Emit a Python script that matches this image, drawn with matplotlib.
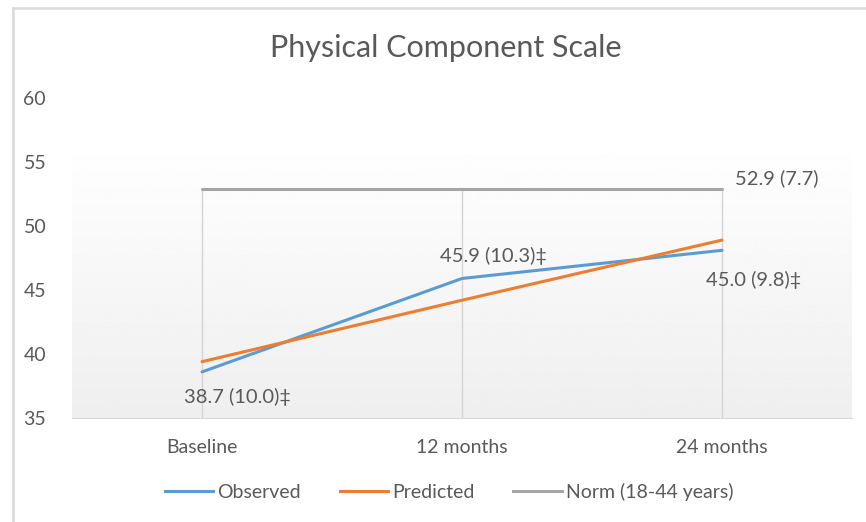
import numpy as np
import matplotlib.pyplot as plt
from matplotlib.lines import Line2D

categories = ['Baseline', '12 months', '24 months']
observed = [38.6, 45.9, 48.1]
predicted = [39.4, 44.2, 48.9]
norm = [52.9, 52.9, 52.9]
obs_labels = ['38.7 (10.0)‡', '45.9 (10.3)‡', '45.0 (9.8)‡']
norm_label = '52.9 (7.7)'

fonts = ['Lato', 'DejaVu Sans']
txt = '#595959'
plt.rcParams['font.family'] = fonts

fig = plt.figure(figsize=(8.66, 5.22), dpi=100)
W, H = 866, 522
ax = fig.add_axes([72 / W, 1 - 418 / H, (852 - 72) / W, (418 - 98) / H])

x = np.arange(len(categories))
ax.set_xlim(-0.5, 2.5)
ax.set_ylim(35, 60)

# gradient background of the plot area (white at top, light grey at bottom)
t = np.linspace(0, 1, 256)
grad = (0.935 + 0.065 * np.clip(t / 0.88, 0, 1)).reshape(-1, 1)
ax.imshow(grad, extent=[-0.5, 2.5, 35, 60], origin='lower', aspect='auto',
          cmap='gray', vmin=0, vmax=1, zorder=0)

# drop lines
ax.vlines(x, 35, norm, color='#d4d4d4', lw=1, zorder=1)

ax.plot(x, observed, color='#5b9bd5', lw=2.2, zorder=3, solid_capstyle='round')
ax.plot(x, predicted, color='#ed7d31', lw=2.2, zorder=3, solid_capstyle='round')
ax.plot(x, norm, color='#a5a5a5', lw=2.2, zorder=2, solid_capstyle='round')

# data labels
lbl = dict(ha='center', va='center', fontsize=14.5, color=txt)
ax.text(0.135, 36.64, obs_labels[0], **lbl)
ax.text(1.12, 47.66, obs_labels[1], **lbl)
ax.text(2.12, 45.78, obs_labels[2], **lbl)
ax.text(2.21, 53.75, norm_label, **lbl)

for s in ['top', 'right', 'left']:
    ax.spines[s].set_visible(False)
ax.spines['bottom'].set_color('#d9d9d9')
ax.set_xticks(x)
ax.set_xticklabels(categories)
ax.set_yticks([35, 40, 45, 50, 55, 60])
ax.tick_params(axis='both', length=0, labelsize=14, labelcolor=txt)
ax.tick_params(axis='x', pad=15)
for lab in ax.get_yticklabels():
    lab.set_horizontalalignment('left')
    lab.set_x(-0.056)

fig.text(446 / W, 1 - 48 / H, 'Physical Component Scale', ha='center', va='center',
         fontsize=22, color=txt)

handles = [Line2D([], [], color='#5b9bd5', lw=2.2),
           Line2D([], [], color='#ed7d31', lw=2.2),
           Line2D([], [], color='#a5a5a5', lw=2.2)]
fig.legend(handles, ['Observed', 'Predicted', 'Norm (18-44 years)'], loc='center',
           bbox_to_anchor=(449 / W, 1 - 492 / H), ncol=3, frameon=False,
           fontsize=14, labelcolor=txt, handlelength=2.5, handletextpad=0.2,
           columnspacing=2.0)

# chart border
fig.add_artist(Line2D([12.5 / W, 12.5 / W], [0, 1 - 8 / H], color='#d9d9d9', lw=1.8))
fig.add_artist(Line2D([12.5 / W, 1], [1 - 8 / H, 1 - 8 / H], color='#d9d9d9', lw=1.8))

fig.savefig('out.png', dpi=100)
